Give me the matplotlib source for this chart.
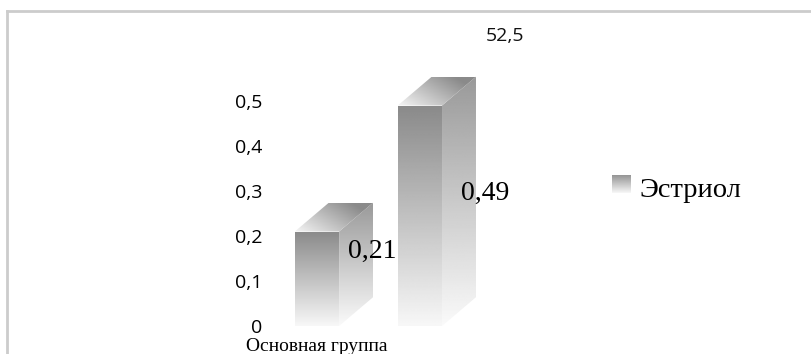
import numpy as np
import matplotlib
matplotlib.use("Agg")
import matplotlib.pyplot as plt
from matplotlib.patches import Polygon
from matplotlib.lines import Line2D
from matplotlib.ticker import FuncFormatter

# data
categories = ["Основная группа", ""]
series_name = "Эстриол"
values = [0.21, 0.49]
value_labels = ["0,21", "0,49"]
extra_label = "52,5"
y_ticks = [0, 0.1, 0.2, 0.3, 0.4, 0.5]

# 3d look
BAR_W = 0.43
DEPTH_X = 0.33
DEPTH_Y = 0.064
LABEL_DX = [0.54, 0.63]
LABEL_FRAC = [0.79, 0.60]

SANS = "Open Sans"
SERIF = "Liberation Serif"


def shade(ax, verts, grad, z):
    poly = Polygon(verts, closed=True, facecolor="none", edgecolor="none")
    ax.add_patch(poly)
    xs = [v[0] for v in verts]
    ys = [v[1] for v in verts]
    im = ax.imshow(grad, cmap="gray", vmin=0, vmax=1, origin="upper",
                   extent=(min(xs), max(xs), min(ys), max(ys)),
                   aspect="auto", interpolation="bilinear", zorder=z)
    im.set_clip_path(poly)


def vgrad(top, bottom):
    return np.linspace(top, bottom, 256)[:, None] * np.ones((1, 2))


fig = plt.figure(figsize=(8.12, 3.54), dpi=100)
ax = fig.add_axes([0, 0.0791, 1, 0.8898])
ax.set_facecolor("none")

for i, v in enumerate(values):
    x0 = i - BAR_W / 2
    x1 = i + BAR_W / 2
    front = [(x0, 0), (x1, 0), (x1, v), (x0, v)]
    side = [(x1, 0), (x1 + DEPTH_X, DEPTH_Y), (x1 + DEPTH_X, v + DEPTH_Y), (x1, v)]
    top = [(x0, v), (x1, v), (x1 + DEPTH_X, v + DEPTH_Y), (x0 + DEPTH_X, v + DEPTH_Y)]
    shade(ax, front, vgrad(0.54, 0.97), 2)
    shade(ax, side, vgrad(0.60, 0.98), 2)
    u = np.linspace(0, 1, 128)[None, :]
    w = np.linspace(1, 0, 64)[:, None]
    g = 0.96 - 0.42 * np.clip(0.75 * u + 0.45 * w, 0, 1)
    shade(ax, top, g, 2)
    ax.text(i + LABEL_DX[i], v * LABEL_FRAC[i], value_labels[i],
            family=SERIF, fontsize=20, ha="center", va="center",
            color="black", zorder=5)

ax.text(1.83, 0.644, extra_label, family=SANS, fontsize=14,
        ha="center", va="center", color="#111111")

ax.set_xlim(-3.08, 4.81)
ax.set_ylim(0, 0.7)

ax.set_yticks(y_ticks)
ax.yaxis.set_major_formatter(FuncFormatter(lambda y, _: f"{y:g}".replace(".", ",")))
ax.spines["left"].set_position(("data", -0.53))
ax.tick_params(axis="y", length=0, pad=0, labelsize=14, labelcolor="black")
for lab in ax.get_yticklabels():
    lab.set_family(SANS)
    lab.set_verticalalignment("center_baseline")

ax.set_xticks([0, 1], labels=categories)
ax.tick_params(axis="x", length=0, pad=9)
for lab in ax.get_xticklabels():
    lab.set_family(SERIF)
    lab.set_fontsize(14)

for s in ax.spines.values():
    s.set_visible(False)

# legend
lax = fig.add_axes([0.7537, 0.4548, 0.0222, 0.0508])
lax.imshow(vgrad(0.58, 0.97), cmap="gray", vmin=0, vmax=1, aspect="auto",
           interpolation="bilinear")
lax.axis("off")
fig.text(0.787, 0.4435, series_name, family=SERIF, fontsize=20.5,
         va="baseline", ha="left")

# chart area border (top and left)
fig.add_artist(Line2D([0.0086, 1], [0.9689, 0.9689], color="#cccccc", lw=2,
                      transform=fig.transFigure))
fig.add_artist(Line2D([0.0086, 0.0086], [0, 0.9689], color="#cccccc", lw=2,
                      transform=fig.transFigure))

fig.savefig("out.png", dpi=100)
